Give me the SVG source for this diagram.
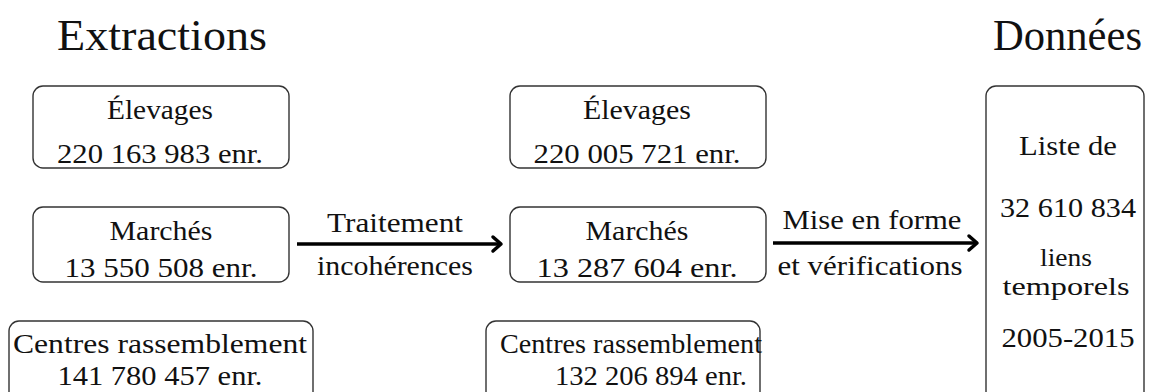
<svg xmlns="http://www.w3.org/2000/svg" width="1150" height="392" viewBox="0 0 1150 392">
<style>
text{font-family:"Liberation Serif","DejaVu Serif",serif;fill:#111;}
.t{font-size:45px;}
.b{font-size:28px;text-anchor:middle;}
.s{font-size:26px;text-anchor:middle;}
.a{font-size:28px;text-anchor:middle;}
.box{fill:none;stroke:#333;stroke-width:1.4;}
.arr{fill:none;stroke:#000;stroke-width:3.5;}
.head{fill:none;stroke:#000;stroke-width:3.5;stroke-linecap:round;stroke-linejoin:round;}
</style>
<text class="t" x="57" y="50" textLength="210" lengthAdjust="spacingAndGlyphs">Extractions</text>
<text class="t" x="993" y="50" textLength="149" lengthAdjust="spacingAndGlyphs">Données</text>

<g id="elevages1">
<rect class="box" x="33" y="86" width="256" height="82" rx="10"/>
<text class="b" x="160" y="119" textLength="106" lengthAdjust="spacingAndGlyphs">Élevages</text>
<text class="b" x="160" y="163" textLength="206" lengthAdjust="spacingAndGlyphs">220 163 983 enr.</text>
</g>
<g id="marches1">
<rect class="box" x="33" y="207" width="256" height="75" rx="10"/>
<text class="b" x="161" y="240" textLength="103" lengthAdjust="spacingAndGlyphs">Marchés</text>
<text class="b" x="161" y="277" textLength="193" lengthAdjust="spacingAndGlyphs">13 550 508 enr.</text>
</g>
<g id="centres1">
<rect class="box" x="9" y="321" width="304" height="90" rx="10"/>
<text class="b" x="160" y="353" textLength="294" lengthAdjust="spacingAndGlyphs">Centres rassemblement</text>
<text class="b" x="160" y="385" textLength="205" lengthAdjust="spacingAndGlyphs">141 780 457 enr.</text>
</g>

<g id="elevages2">
<rect class="box" x="510" y="86" width="256" height="82" rx="10"/>
<text class="b" x="637" y="119" textLength="108" lengthAdjust="spacingAndGlyphs">Élevages</text>
<text class="b" x="637" y="163" textLength="207" lengthAdjust="spacingAndGlyphs">220 005 721 enr.</text>
</g>
<g id="marches2">
<rect class="box" x="510" y="207" width="256" height="75" rx="10"/>
<text class="b" x="637" y="240" textLength="103" lengthAdjust="spacingAndGlyphs">Marchés</text>
<text class="b" x="637" y="277" textLength="201" lengthAdjust="spacingAndGlyphs">13 287 604 enr.</text>
</g>
<g id="centres2">
<rect class="box" x="486" y="321" width="274" height="90" rx="10"/>
<text class="b" x="631" y="353" textLength="262" lengthAdjust="spacingAndGlyphs">Centres rassemblement</text>
<text class="b" x="651" y="385" textLength="192" lengthAdjust="spacingAndGlyphs">132 206 894 enr.</text>
</g>

<g id="donnees">
<rect class="box" x="986" y="86" width="158" height="330" rx="10"/>
<text class="b" x="1068" y="155" textLength="98" lengthAdjust="spacingAndGlyphs">Liste de</text>
<text class="b" x="1068" y="217" textLength="136" lengthAdjust="spacingAndGlyphs">32 610 834</text>
<text class="s" x="1066" y="266" textLength="52" lengthAdjust="spacingAndGlyphs">liens</text>
<text class="s" x="1066" y="295" textLength="127" lengthAdjust="spacingAndGlyphs">temporels</text>
<text class="b" x="1068" y="347" textLength="133" lengthAdjust="spacingAndGlyphs">2005-2015</text>
</g>

<g id="connectors">
<line class="arr" x1="297" y1="244" x2="500" y2="244"/>
<polyline class="head" points="493,237 501,244 493,251"/>
<text class="a" x="395" y="232" textLength="136" lengthAdjust="spacingAndGlyphs">Traitement</text>
<text class="a" x="395" y="275" textLength="156" lengthAdjust="spacingAndGlyphs">incohérences</text>
<line class="arr" x1="773" y1="243" x2="976" y2="243"/>
<polyline class="head" points="969,236 977,243 969,250"/>
<text class="a" x="872" y="229" textLength="179" lengthAdjust="spacingAndGlyphs">Mise en forme</text>
<text class="a" x="870" y="275" textLength="185" lengthAdjust="spacingAndGlyphs">et vérifications</text>
</g>
</svg>
